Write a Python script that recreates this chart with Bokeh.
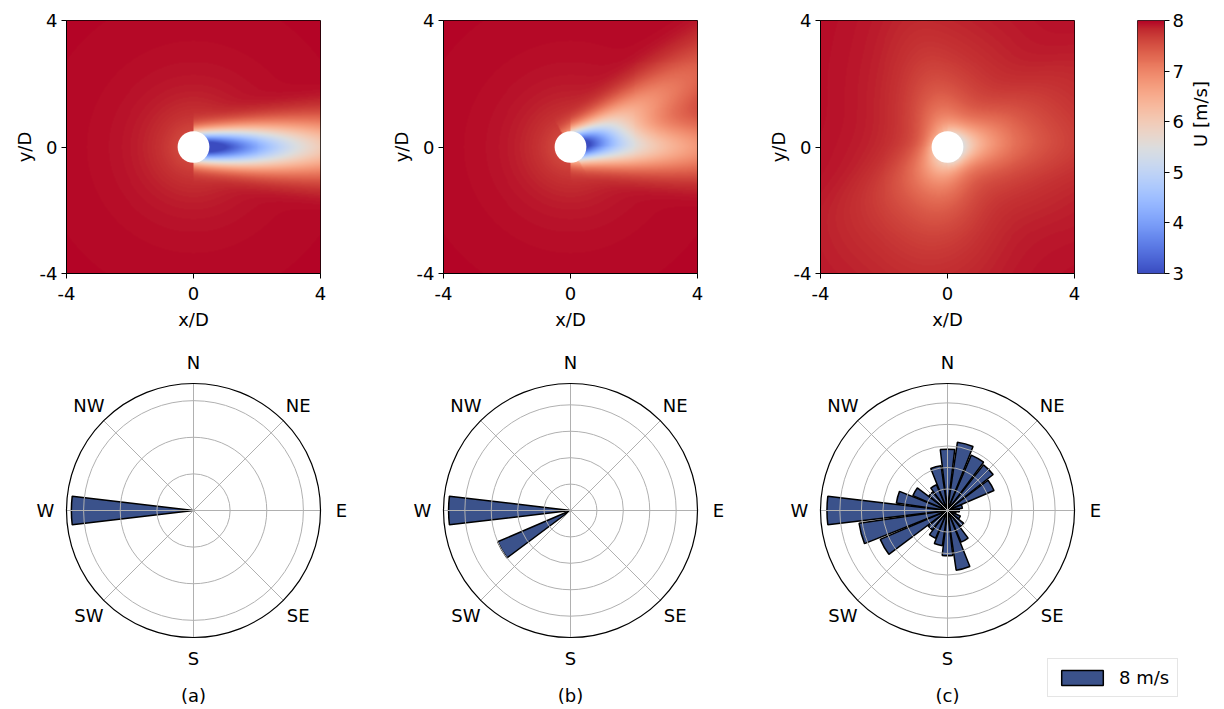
import numpy as np
from bokeh.plotting import figure
from bokeh.layouts import row, column
from bokeh.models import (Range1d, LinearColorMapper, FixedTicker, Label,
                          Legend, LegendItem)
from bokeh.embed import file_html
from bokeh.resources import INLINE
from bokeh.core.properties import value

# ---------------------------------------------------------------- data
U_INF = 8.0
U_LOW, U_HIGH = 3.0, 8.0
cbar_ticks = [3, 4, 5, 6, 7, 8]
cbar_label = "U [m/s]"
xy_ticks = [-4, 0, 4]
xy_tick_labels = ["-4", "0", "4"]
x_label = "x/D"
y_label = "y/D"
compass_labels = ["N", "NE", "E", "SE", "S", "SW", "W", "NW"]
compass_bearings = [0, 45, 90, 135, 180, 225, 270, 315]
panel_captions = ["(a)", "(b)", "(c)"]
legend_label = "8 m/s"

# wind roses: bearing (deg, wind FROM, clockwise from N) and frequency
dir_a = [270]
freq_a = [1.0]
rings_a = [0.30, 0.60, 0.90]
rmax_a = 1.04

dir_b = [270, 240]
freq_b = [0.60, 0.39]
rings_b = [0.13, 0.26, 0.39, 0.52]
rmax_b = 0.625

dir_c = [0, 15, 30, 45, 60, 75, 90, 105, 120, 135, 150, 165,
         180, 195, 210, 225, 240, 255, 270, 285, 300, 315, 330, 345]
freq_c = [0.057, 0.064, 0.056, 0.054, 0.047, 0.014, 0.011, 0.008,
          0.013, 0.019, 0.032, 0.056, 0.042, 0.033, 0.028, 0.023,
          0.068, 0.083, 0.112, 0.048, 0.035, 0.022, 0.026, 0.042]
rings_c = [0.02, 0.04, 0.06, 0.08, 0.10]
rmax_c = 0.118

sector_width_deg = 13.5

# single-turbine wake model parameters (in rotor diameters D)
rotor_diameter = 1.0
turbine_x, turbine_y = 0.0, 0.0
wake_peak_deficit = 0.66
wake_decay_length = 3.1
wake_sigma0 = 0.32
wake_growth = 0.08
induction_deficit = 0.06

# matplotlib "coolwarm" anchor colours (Moreland)
coolwarm_anchors = [
    (0.2298, 0.2987, 0.7537), (0.2662, 0.3531, 0.8015), (0.3039, 0.4065, 0.8450),
    (0.3428, 0.4588, 0.8837), (0.3830, 0.5094, 0.9174), (0.4244, 0.5581, 0.9456),
    (0.4667, 0.6046, 0.9682), (0.5096, 0.6483, 0.9848), (0.5530, 0.6889, 0.9954),
    (0.5963, 0.7261, 0.9998), (0.6392, 0.7596, 0.9982), (0.6813, 0.7890, 0.9904),
    (0.7222, 0.8140, 0.9766), (0.7615, 0.8343, 0.9569), (0.7987, 0.8498, 0.9317),
    (0.8335, 0.8602, 0.9011), (0.8654, 0.8654, 0.8654), (0.8978, 0.8489, 0.8209),
    (0.9241, 0.8274, 0.7745), (0.9445, 0.8009, 0.7267), (0.9589, 0.7698, 0.6780),
    (0.9673, 0.7341, 0.6288), (0.9700, 0.6943, 0.5794), (0.9668, 0.6504, 0.5303),
    (0.9580, 0.6028, 0.4818), (0.9437, 0.5518, 0.4342), (0.9239, 0.4973, 0.3880),
    (0.8990, 0.4396, 0.3432), (0.8692, 0.3783, 0.3003), (0.8346, 0.3129, 0.2593),
    (0.7956, 0.2413, 0.2205), (0.7525, 0.1572, 0.1841), (0.7057, 0.0156, 0.1502),
]

BAR_COLOR = "#3b528b"
GRID_COLOR = "#b0b0b0"
FONT = "DejaVu Sans"
FS = "18px"

# ---------------------------------------------------------------- palette
anch = np.array(coolwarm_anchors)
pos = np.linspace(0, 1, len(anch))
t = np.linspace(0, 1, 256)
palette = []
for tt in t:
    r, g, b = (int(round(255 * np.interp(tt, pos, anch[:, k]))) for k in range(3))
    palette.append("#%02x%02x%02x" % (r, g, b))
mapper = LinearColorMapper(palette=palette, low=U_LOW, high=U_HIGH)

# ---------------------------------------------------------------- field
N = 256
lo, hi = min(xy_ticks), max(xy_ticks)
h = (hi - lo) / N
g = np.linspace(lo + h / 2, hi - h / 2, N)
X, Y = np.meshgrid(g, g)


def field(dirs, freqs):
    w = np.array(freqs, float) / np.sum(freqs)
    deficit = np.zeros_like(X)
    for d, wi in zip(dirs, w):
        th = np.radians(d)
        ux, uy = -np.sin(th), -np.cos(th)
        s = (X - turbine_x) * ux + (Y - turbine_y) * uy
        n = -(X - turbine_x) * uy + (Y - turbine_y) * ux
        sp = np.clip(s, 0, None)
        sig = wake_sigma0 + wake_growth * sp
        amp = wake_peak_deficit / (1 + (sp / wake_decay_length) ** 2)
        deficit += wi * np.where(s > 0, amp * np.exp(-n ** 2 / (2 * sig ** 2)), 0.0)
    rho2 = (X - turbine_x) ** 2 + (Y - turbine_y) ** 2
    deficit += induction_deficit / (1 + rho2)
    return U_INF * (1 - deficit)


TOP_H = 335


def style_axis(ax, label_standoff, axis_label_standoff):
    ax.minor_tick_line_color = None
    ax.major_tick_in = 0
    ax.major_tick_out = 5
    ax.major_tick_line_color = "black"
    ax.axis_line_color = "black"
    ax.major_label_text_font = FONT
    ax.major_label_text_font_size = FS
    ax.major_label_text_color = "black"
    ax.axis_label_text_font = FONT
    ax.axis_label_text_font_size = FS
    ax.axis_label_text_font_style = "normal"
    ax.axis_label_text_color = "black"
    ax.major_label_standoff = label_standoff
    ax.axis_label_standoff = axis_label_standoff


def heat_fig(U, width, left, right):
    p = figure(width=width, height=TOP_H,
               x_range=Range1d(lo, hi), y_range=Range1d(lo, hi),
               min_border_left=left, min_border_right=right,
               min_border_top=20, min_border_bottom=62,
               output_backend="svg", toolbar_location=None)
    p.image(image=[U], x=lo, y=lo, dw=hi - lo, dh=hi - lo, color_mapper=mapper)
    p.ellipse(x=[turbine_x], y=[turbine_y], width=rotor_diameter,
              height=rotor_diameter, fill_color="white", line_color=None)
    p.grid.visible = False
    p.outline_line_color = "black"
    p.outline_line_width = 1
    p.xaxis.axis_label = x_label
    p.yaxis.axis_label = y_label
    overrides = {tk: lab for tk, lab in zip(xy_ticks, xy_tick_labels)}
    for ax in (p.xaxis[0], p.yaxis[0]):
        ax.ticker = FixedTicker(ticks=xy_ticks)
        ax.major_label_overrides = overrides
    style_axis(p.xaxis[0], 8, 6)
    style_axis(p.yaxis[0], 4, 2)
    return p


ha = heat_fig(field(dir_a, freq_a), 377, 66, 57)
hb = heat_fig(field(dir_b, freq_b), 377, 66, 57)
hc = heat_fig(field(dir_c, freq_c), 346, 66, 26)

# colour bar
cb = figure(width=124, height=TOP_H, x_range=Range1d(0, 1),
            y_range=Range1d(U_LOW, U_HIGH), x_axis_location=None,
            y_axis_location="right", min_border_left=37, min_border_right=56,
            min_border_top=12, min_border_bottom=49,
            output_backend="svg", toolbar_location=None)
grad = np.linspace(U_LOW, U_HIGH, 256).reshape(-1, 1)
cb.image(image=[grad], x=0, y=U_LOW, dw=1, dh=U_HIGH - U_LOW, color_mapper=mapper)
cb.grid.visible = False
cb.outline_line_color = "#222222"
ax = cb.yaxis[0]
ax.ticker = FixedTicker(ticks=cbar_ticks)
style_axis(ax, 3, 14)
ax.axis_line_color = "#222222"
ax.axis_label = cbar_label
if "axis_label_orientation" in ax.properties():
    ax.axis_label_orientation = np.pi / 2

# ---------------------------------------------------------------- wind roses
R_PX = 127
BOT_H = 374
CY = 175
CX = 193


def polar_fig(dirs, freqs, rings, rmax, width, caption):
    ppu = R_PX / rmax
    p = figure(width=width, height=BOT_H,
               x_range=Range1d(-CX / ppu, (width - CX) / ppu),
               y_range=Range1d(-(BOT_H - CY) / ppu, CY / ppu),
               x_axis_location=None, y_axis_location=None, min_border=0,
               output_backend="svg", toolbar_location=None)
    p.grid.visible = False
    p.outline_line_color = None
    half = sector_width_deg / 2
    d = np.array(dirs, float)
    bars = p.wedge(x=[0] * len(d), y=[0] * len(d), radius=list(freqs),
                   start_angle=list(np.radians(90 - d - half)),
                   end_angle=list(np.radians(90 - d + half)),
                   fill_color=BAR_COLOR, line_color="black", line_width=1.5)
    p.circle(x=[0] * len(rings), y=[0] * len(rings), radius=rings,
             fill_color=None, line_color=GRID_COLOR, line_width=1)
    b = np.radians(np.array(compass_bearings, float))
    p.segment(x0=[0] * len(b), y0=[0] * len(b), x1=list(rmax * np.sin(b)),
              y1=list(rmax * np.cos(b)), line_color=GRID_COLOR, line_width=1)
    p.circle(x=[0], y=[0], radius=[rmax], fill_color=None,
             line_color="black", line_width=1.2)
    lr = 148 / ppu
    p.text(x=list(lr * np.sin(b)), y=list(lr * np.cos(b)), text=compass_labels,
           text_align="center", text_baseline="middle",
           text_font=value(FONT), text_font_size=value(FS), text_color="black")
    p.add_layout(Label(x=0, y=-185 / ppu, text=caption, text_align="center",
                       text_baseline="middle", text_font=FONT,
                       text_font_size=FS, text_color="black"))
    return p, bars


pa, _ = polar_fig(dir_a, freq_a, rings_a, rmax_a, 377, panel_captions[0])
pb, _ = polar_fig(dir_b, freq_b, rings_b, rmax_b, 377, panel_captions[1])
pc, bars_c = polar_fig(dir_c, freq_c, rings_c, rmax_c, 470, panel_captions[2])

leg = Legend(items=[LegendItem(label=legend_label, renderers=[bars_c])],
             location=(293, 12), glyph_width=52, glyph_height=19,
             label_standoff=11, padding=8, spacing=0, margin=0,
             label_text_font=FONT, label_text_font_size="18px",
             label_text_color="black", border_line_color="#cccccc",
             border_line_width=1, background_fill_alpha=0.8)
pc.add_layout(leg)

layout = column(row(ha, hb, hc, cb), row(pa, pb, pc))
open("out.html", "w").write(file_html(layout, INLINE))
